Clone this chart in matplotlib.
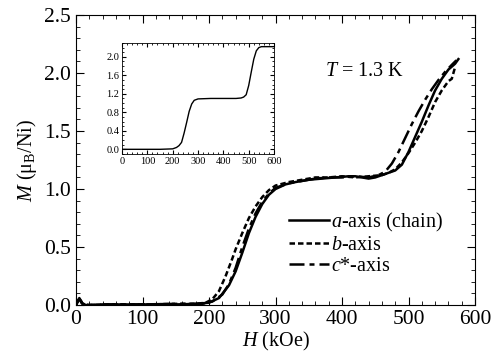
import matplotlib
matplotlib.use("Agg")
import matplotlib.pyplot as plt
from matplotlib.ticker import MultipleLocator

plt.rcParams['font.family'] = ['Liberation Serif', 'DejaVu Serif']
plt.rcParams['mathtext.fontset'] = 'custom'
plt.rcParams['mathtext.rm'] = 'Liberation Serif'
plt.rcParams['mathtext.it'] = 'Liberation Serif:italic'

# a-axis (chain)
h_a = [0, 2, 5, 8, 12, 20, 50, 100, 150, 180, 200, 215, 230, 240, 250, 260, 270, 280, 290,
       300, 315, 330, 350, 370, 390, 410, 420, 430, 440, 450, 460, 470, 480, 490, 500, 510,
       520, 530, 540, 550, 560, 570, 575]
m_a = [0, 0.03, 0.06, 0.02, 0, 0, 0.005, 0.005, 0.005, 0.01, 0.02, 0.06, 0.17, 0.29, 0.45,
       0.62, 0.76, 0.87, 0.95, 1.0, 1.04, 1.06, 1.08, 1.09, 1.1, 1.11, 1.11, 1.10, 1.09, 1.10,
       1.12, 1.14, 1.16, 1.21, 1.32, 1.45, 1.58, 1.72, 1.85, 1.95, 2.03, 2.08, 2.12]

# b-axis
h_b = [0, 3, 6, 10, 20, 50, 100, 150, 180, 195, 205, 215, 225, 235, 240, 250, 260, 270, 280,
       290, 300, 320, 340, 360, 380, 400, 420, 440, 460, 470, 480, 490, 500, 510, 520, 530,
       540, 550, 560, 565, 570]
m_b = [0, 0.04, 0.05, 0.01, 0, 0.005, 0.005, 0.01, 0.01, 0.02, 0.05, 0.12, 0.25, 0.40, 0.48,
       0.62, 0.75, 0.85, 0.93, 0.99, 1.03, 1.06, 1.08, 1.10, 1.10, 1.11, 1.10, 1.11, 1.12,
       1.14, 1.17, 1.23, 1.31, 1.40, 1.50, 1.62, 1.75, 1.85, 1.93, 1.95, 2.05]

# c*-axis
h_c = [0, 3, 6, 10, 20, 50, 100, 150, 190, 205, 220, 230, 240, 250, 260, 270, 280, 290, 300,
       320, 340, 360, 380, 400, 420, 440, 455, 465, 475, 485, 495, 505, 515, 525, 535, 545,
       555, 565, 572]
m_c = [0, 0.03, 0.05, 0.01, 0, 0.005, 0.005, 0.01, 0.01, 0.03, 0.09, 0.18, 0.32, 0.50, 0.66,
       0.79, 0.89, 0.96, 1.01, 1.05, 1.07, 1.09, 1.10, 1.10, 1.11, 1.10, 1.12, 1.15, 1.22,
       1.32, 1.44, 1.56, 1.67, 1.77, 1.86, 1.94, 2.01, 2.07, 2.11]

# inset (calculated curve)
h_in = [0, 150, 200, 215, 225, 235, 245, 255, 265, 275, 285, 300, 350, 400, 450, 470, 480,
        490, 500, 510, 520, 530, 540, 550, 570, 600]
m_in = [0, 0, 0.01, 0.04, 0.08, 0.15, 0.35, 0.58, 0.82, 0.98, 1.06, 1.09, 1.1, 1.1, 1.1,
        1.11, 1.13, 1.18, 1.38, 1.67, 1.95, 2.13, 2.2, 2.22, 2.22, 2.22]

fig = plt.figure(figsize=(4.92, 3.58), dpi=100)
ax = fig.add_axes([0.1545, 0.148, 0.811, 0.81])

ax.plot(h_a, m_a, color='black', lw=1.8, ls='-', label='$a$-axis (chain)')
ax.plot(h_b, m_b, color='black', lw=1.8, ls=(0, (2.2, 1.2)), label='$b$-axis')
ax.plot(h_c, m_c, color='black', lw=1.8, ls=(0, (6, 2, 2, 2)), label='$c$*-axis')

ax.set_xlim(0, 600)
ax.set_ylim(0, 2.5)
ax.xaxis.set_major_locator(MultipleLocator(100))
ax.xaxis.set_minor_locator(MultipleLocator(20))
ax.yaxis.set_major_locator(MultipleLocator(0.5))
ax.yaxis.set_minor_locator(MultipleLocator(0.1))
ax.yaxis.set_major_formatter(matplotlib.ticker.FormatStrFormatter('%.1f'))
ax.tick_params(which='both', direction='in', top=True, right=True, labelsize=15.5)
ax.tick_params(which='major', length=6)
ax.tick_params(which='minor', length=3)
ax.set_xlabel('$H$ (kOe)', fontsize=14.5, labelpad=1)
ax.set_ylabel('$M$ ($\\mathregular{\\mu_B}$/Ni)', fontsize=14.5, labelpad=4)

ax.text(0.625, 0.79, '$T$ = 1.3 K', transform=ax.transAxes, fontsize=14.5)

leg = ax.legend(loc='lower right', bbox_to_anchor=(0.94, 0.072), frameon=False,
                fontsize=14.5, handlelength=1.95, handletextpad=0.1, labelspacing=0.1,
                borderaxespad=0)

ins = fig.add_axes([0.248, 0.570, 0.309, 0.310])
ins.plot(h_in, m_in, color='black', lw=1.0)
ins.set_xlim(0, 600)
ins.set_ylim(-0.1, 2.3)
ins.xaxis.set_major_locator(MultipleLocator(100))
ins.xaxis.set_minor_locator(MultipleLocator(20))
ins.yaxis.set_major_locator(MultipleLocator(0.4))
ins.yaxis.set_minor_locator(MultipleLocator(0.1))
ins.yaxis.set_major_formatter(matplotlib.ticker.FormatStrFormatter('%.1f'))
ins.tick_params(which='both', direction='in', top=True, right=True, labelsize=7.5, pad=2)
ins.tick_params(which='major', length=3)
ins.tick_params(which='minor', length=1.5)
for s in ins.spines.values():
    s.set_linewidth(0.6)

fig.savefig('out.png', dpi=100)
